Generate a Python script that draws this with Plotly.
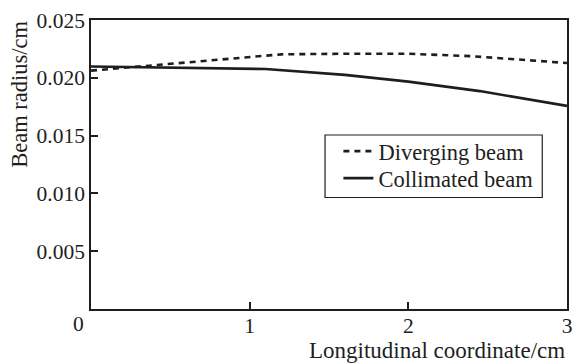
import plotly.graph_objects as go

# Data
x_div = [0.0, 0.4, 0.8, 1.2, 1.6, 2.0, 2.4, 3.0]
y_div = [0.02062, 0.02108, 0.02160, 0.02203, 0.02208, 0.02208, 0.02187, 0.02128]
x_col = [0.0, 0.5, 1.1, 1.6, 2.0, 2.45, 3.0]
y_col = [0.02098, 0.02088, 0.02076, 0.02025, 0.01967, 0.01885, 0.01757]

x_ticks = [1, 2, 3]
y_ticks = [0.005, 0.010, 0.015, 0.020, 0.025]
y_ticklabels = ["0.005", "0.010", "0.015", "0.020", "0.025"]

FONT = "Liberation Serif, Times New Roman, serif"
INK = "#1e1e1e"

W, H = 576, 363
L, R, T, B = 91, 4, 20, 54
PW, PH = W - L - R, H - T - B


def px(xp):
    return (xp - L) / PW


def py(yp):
    return (H - B - yp) / PH


fig = go.Figure()
fig.add_trace(go.Scatter(x=x_div, y=y_div, mode="lines", name="Diverging beam",
                         legend="legend",
                         line=dict(color=INK, width=2.6, dash="6px,5px")))
fig.add_trace(go.Scatter(x=x_col, y=y_col, mode="lines", name="Collimated beam",
                         legend="legend2",
                         line=dict(color=INK, width=2.6)))

leg_common = dict(xanchor="left", yanchor="top", borderwidth=0,
                  bgcolor="rgba(0,0,0,0)",
                  font=dict(size=22.5, family=FONT, color=INK), itemwidth=30)

fig.update_layout(
    width=W, height=H,
    margin=dict(l=L, r=R, t=T, b=B),
    paper_bgcolor="white", plot_bgcolor="white",
    font=dict(family=FONT, size=21, color=INK),
    showlegend=True,
    legend=dict(x=px(341), y=py(130), **leg_common),
    legend2=dict(x=px(341), y=py(157), **leg_common),
    xaxis=dict(range=[0, 3], tickvals=x_ticks, ticktext=[str(v) for v in x_ticks],
               ticks="inside", ticklen=7, tickwidth=1.5, tickcolor=INK,
               showline=True, linecolor=INK, linewidth=1.5, mirror=True,
               showgrid=False, zeroline=False, ticklabelstandoff=-4,
               tickfont=dict(size=21.5, family=FONT, color=INK)),
    yaxis=dict(range=[0, 0.025], tickvals=y_ticks, ticktext=y_ticklabels,
               ticks="inside", ticklen=7, tickwidth=1.5, tickcolor=INK,
               showline=True, linecolor=INK, linewidth=1.5, mirror=True,
               showgrid=False, zeroline=False,
               tickfont=dict(size=21.5, family=FONT, color=INK)),
)

# legend frame
fig.add_shape(type="rect", xref="paper", yref="paper",
              x0=px(327.5), x1=px(547), y0=py(197.5), y1=py(135),
              line=dict(color=INK, width=1.2), fillcolor="rgba(0,0,0,0)")

fig.add_annotation(text="0", xref="paper", yref="paper",
                   x=px(78), y=py(324),
                   xanchor="center", yanchor="middle", showarrow=False,
                   font=dict(size=21.5, family=FONT, color=INK))
fig.add_annotation(text="Longitudinal coordinate/cm", xref="paper", yref="paper",
                   x=px(572), y=py(350.5),
                   xanchor="right", yanchor="middle", showarrow=False,
                   font=dict(size=23, family=FONT, color=INK))
fig.add_annotation(text="Beam radius/cm", xref="paper", yref="paper",
                   x=px(18), y=py(94), textangle=-90,
                   xanchor="center", yanchor="middle", showarrow=False,
                   font=dict(size=22.5, family=FONT, color=INK))

fig.write_html("out.html")
